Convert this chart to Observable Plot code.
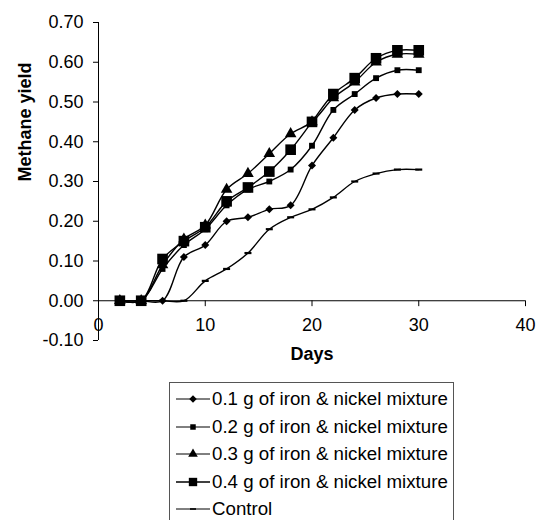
<!DOCTYPE html>
<html><head><meta charset="utf-8">
<script src="https://cdn.jsdelivr.net/npm/d3@7"></script>
<script src="https://cdn.jsdelivr.net/npm/@observablehq/plot@0.6"></script>
<style>
html,body{margin:0;padding:0;background:#fff;overflow:hidden;width:536px;height:520px;}
#wrap{position:relative;width:536px;height:520px;font-family:"Liberation Sans",Arial,sans-serif;overflow:hidden;}
#legend{position:absolute;left:169px;top:382px;width:285px;height:160px;border:1px solid #555;box-sizing:border-box;background:#fff;}
.row{position:absolute;left:0;height:28px;display:flex;align-items:center;font-size:18.7px;color:#000;white-space:nowrap;}
.row svg{margin-left:5px;margin-right:1px;}
</style></head><body><div id="wrap"></div>
<script>
const days = [2,4,6,8,10,12,14,16,18,20,22,24,26,28,30];
const seriesNames = ["0.1 g of iron & nickel mixture","0.2 g of iron & nickel mixture","0.3 g of iron & nickel mixture","0.4 g of iron & nickel mixture","Control"];
const yield01 = [0,0,0,0.11,0.14,0.20,0.21,0.23,0.24,0.34,0.41,0.48,0.51,0.52,0.52];
const yield02 = [0,0,0.08,0.14,0.18,0.24,0.28,0.30,0.33,0.39,0.48,0.52,0.56,0.58,0.58];
const yield03 = [0,0,0.09,0.155,0.19,0.28,0.32,0.37,0.42,0.45,0.51,0.55,0.60,0.62,0.62];
const yield04 = [0,0,0.105,0.15,0.185,0.25,0.285,0.325,0.38,0.45,0.52,0.56,0.61,0.63,0.63];
const yieldControl = [0,0,0,0,0.05,0.08,0.12,0.18,0.21,0.23,0.26,0.30,0.32,0.33,0.33];
const xTicks = [0,10,20,30,40];
const yTicks = [-0.1,0,0.1,0.2,0.3,0.4,0.5,0.6,0.7];

const allValues = [yield01,yield02,yield03,yield04,yieldControl];
const data = [];
allValues.forEach((vals,si)=>vals.forEach((v,i)=>data.push({series:seriesNames[si],day:days[i],value:v})));

const dash = {draw(ctx,size){ctx.rect(-3.5,-1.1,7,2.2);}};
const markerStyle = [
  {symbol:"diamond2", r:3.6},
  {symbol:"square", r:3.3},
  {symbol:"triangle", r:4.3},
  {symbol:"square", r:6.0},
  {symbol:dash, r:3}
];
const tickShape = {draw(ctx,l){ctx.moveTo(0,0);ctx.lineTo(0,-l);}};
const fmt2 = d => (d < 0 ? "-" : "") + Math.abs(d).toFixed(2);

const chart = Plot.plot({
  width:536, height:375,
  marginLeft:98, marginRight:11, marginTop:22, marginBottom:35,
  style:{fontFamily:"'Liberation Sans', Arial, sans-serif", fontSize:"18px", color:"#000", background:"#fff", overflow:"visible"},
  x:{domain:[0,40]},
  y:{domain:[-0.1,0.7]},
  marks:[
    Plot.ruleX([0],{stroke:"#000",strokeWidth:1}),
    Plot.ruleY([0],{stroke:"#000",strokeWidth:1}),
    Plot.vector(xTicks,{x:d=>d,y:()=>0,length:5,rotate:180,anchor:"start",shape:tickShape,stroke:"#000",strokeWidth:1}),
    Plot.axisY({ticks:yTicks,tickSize:5,tickPadding:10,tickFormat:fmt2,label:null,stroke:"#000",fill:"#000"}),
    Plot.axisX({ticks:xTicks,tickSize:0,tickPadding:-22,label:null,fill:"#000"}),
    Plot.line(data,{x:"day",y:"value",z:"series",curve:"catmull-rom",stroke:"#000",strokeWidth:1.4}),
    ...seriesNames.map((name,si)=>Plot.dot(data.filter(d=>d.series===name),{x:"day",y:"value",symbol:()=>markerStyle[si].symbol,r:markerStyle[si].r,fill:"#000",stroke:"none"})),
    Plot.text(["Methane yield"],{frameAnchor:"left",rotate:-90,dx:-73,fontWeight:"bold",text:d=>d,fill:"#000"}),
    Plot.text(["Days"],{frameAnchor:"bottom",dy:19,fontWeight:"bold",text:d=>d,fill:"#000"})
  ]
});
const wrap = document.getElementById("wrap");
wrap.appendChild(chart);

const legend = document.createElement("div");
legend.id = "legend";
const legendSyms = [
  d3.symbol(d3.symbolDiamond2, 36)(),
  d3.symbol(d3.symbolSquare, 30)(),
  d3.symbol(d3.symbolTriangle, 40)(),
  d3.symbol(d3.symbolSquare, 70)(),
  "M-3,-0.8h6v1.6h-6z"
];
seriesNames.forEach((name,i)=>{
  const row = document.createElement("div");
  row.className = "row";
  row.style.top = (2 + i*27.5) + "px";
  row.innerHTML = `<svg width="36" height="16" viewBox="0 0 36 16"><line x1="1" y1="8" x2="35" y2="8" stroke="#000" stroke-width="${i===3?1.6:1}"/><path transform="translate(18,8)" d="${legendSyms[i]}" fill="#000"/></svg><span>${name.replace(/&/g,"&amp;")}</span>`;
  legend.appendChild(row);
});
wrap.appendChild(legend);
</script></body></html>
